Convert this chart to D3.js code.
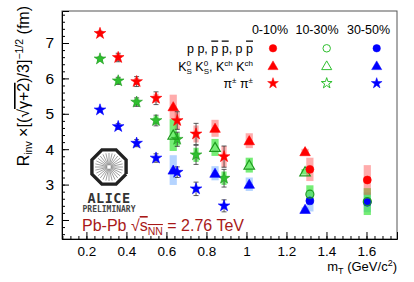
<!DOCTYPE html>
<html>
<head>
<meta charset="utf-8">
<script src="https://cdn.jsdelivr.net/npm/d3@7"></script>
<style>
  body { margin: 0; background: #fff; }
  svg { font-family: "Liberation Sans", Arial, sans-serif; }
</style>
</head>
<body>
<div id="chart"></div>
<script>
// valeurs
const pionMt = [0.268, 0.359, 0.451, 0.548, 0.654, 0.748, 0.888]
const pionR0 = [7.27, 6.59, 5.91, 5.44, 4.81, 4.43, 3.79]
const pionR1 = [6.55, 5.93, 5.33, 4.81, 4.28, 3.84, 3.18]
const pionR2 = [5.11, 4.64, 4.17, 3.75, 3.35, 2.88, 2.40]
const pionStat0 = [0.06, 0.12, 0.14, 0.18, 0.25, 0.30, 0.30]
const pionStat1 = [0.05, 0.10, 0.12, 0.15, 0.20, 0.27, 0.25]
const pionStat2 = [0.05, 0.08, 0.10, 0.12, 0.15, 0.19, 0.17]
const pionSys0 = [0.08, 0.10, 0.10, 0.13, 0.25, 0.24, 0.30]
const pionSys1 = [0.07, 0.08, 0.10, 0.12, 0.18, 0.20, 0.19]
const pionSys2 = [0.04, 0.04, 0.05, 0.05, 0.06, 0.06, 0.06]

const kaonMt = [0.634, 0.843, 1.014, 1.293]
const kaonR0 = [5.20, 4.59, 4.24, 3.93]
const kaonR1 = [4.40, 4.05, 3.55, 3.36]
const kaonR2 = [3.41, 3.32, 3.01, 2.30]
const kaonSys0 = [0.34, 0.24, 0.21, 0.08]
const kaonSys1 = [0.45, 0.24, 0.21, 0.08]
const kaonSys2 = [0.42, 0.20, 0.19, 0.06]

const protonMt = [1.317, 1.604]
const protonR0 = [3.43, 3.13]
const protonR1 = [2.73, 2.52]
const protonR2 = [2.54, 2.50]
const protonSys0 = [0.33, 0.42]
const protonSys1 = [0.25, 0.38]
const protonSys2 = [0.30, 0.28]

const centralities = ["0-10%", "10-30%", "30-50%"]
const xTicks = [0.2, 0.4, 0.6, 0.8, 1, 1.2, 1.4, 1.6]
const yTicks = [2, 3, 4, 5, 6, 7]

const colors = ["#ff0000", "#2fbf2f", "#0000ff"]
const boxColors = ["rgba(255,70,70,0.45)", "rgba(60,230,60,0.7)", "rgba(90,160,255,0.45)"]

const W = 414, H = 282
const frame = { left: 62, right: 397, top: 11, bottom: 239 }

const svg = d3.select("#chart").append("svg")
    .attr("width", W)
    .attr("height", H)

let x = d3.scaleLinear().domain([0.078, 1.7525]).range([frame.left, frame.right])
let y = d3.scaleLinear().domain([1.463, 7.904]).range([frame.bottom, frame.top])

//cadre
svg.append("rect")
    .attr("x", frame.left).attr("y", frame.top)
    .attr("width", frame.right - frame.left)
    .attr("height", frame.bottom - frame.top)
    .attr("fill", "none")
    .attr("stroke", "#555")

//axe x
let minorX = d3.range(0.08, 1.75, 0.04).map(v => +v.toFixed(2))
svg.append("g")
    .attr("transform", "translate(0," + frame.bottom + ")")
    .call(d3.axisBottom(x).tickValues(minorX).tickSize(-3).tickFormat(""))
    .call(g => g.select(".domain").remove())
svg.append("g")
    .attr("transform", "translate(0," + frame.bottom + ")")
    .call(d3.axisBottom(x).tickValues(xTicks).tickSize(-7).tickPadding(7).tickFormat(d3.format("")))
    .call(g => g.select(".domain").attr("stroke", "#000"))
    .call(g => g.selectAll("text").attr("font-size", 13.5).attr("fill", "#000").attr("font-family", "Liberation Sans, Arial, sans-serif"))

//axe y
let minorY = d3.range(1.6, 7.9, 0.2).map(v => +v.toFixed(1))
svg.append("g")
    .attr("transform", "translate(" + frame.left + ",0)")
    .call(d3.axisLeft(y).tickValues(minorY).tickSize(-3).tickFormat(""))
    .call(g => g.select(".domain").remove())
svg.append("g")
    .attr("transform", "translate(" + frame.left + ",0)")
    .call(d3.axisLeft(y).tickValues(yTicks).tickSize(-7).tickPadding(8).tickFormat(d3.format("")))
    .call(g => g.select(".domain").attr("stroke", "#000"))
    .call(g => g.selectAll("text").attr("font-size", 15.5).attr("fill", "#000").attr("font-family", "Liberation Sans, Arial, sans-serif"))
svg.selectAll(".tick line").attr("stroke", "#000")

//logo ALICE
const logo = svg.append("g").attr("transform", "translate(109,167)")
logo.append("path")
    .attr("d", d3.line()(d3.range(9).map(i => {
        let a = Math.PI / 8 + i * Math.PI / 4
        return [18.5 * Math.cos(a), 18.5 * Math.sin(a)]
    })))
    .attr("fill", "none").attr("stroke", "#222").attr("stroke-width", 3.4)
d3.range(28).forEach(i => {
    let a = i * 2 * Math.PI / 28
    logo.append("line")
        .attr("x1", 2 * Math.cos(a)).attr("y1", 2 * Math.sin(a))
        .attr("x2", 14 * Math.cos(a)).attr("y2", 14 * Math.sin(a))
        .attr("stroke", "#888").attr("stroke-width", 0.8)
})
svg.append("text").attr("x", 109).attr("y", 202.5).attr("text-anchor", "middle")
    .attr("font-size", 13.5).attr("font-weight", "bold").attr("fill", "#333")
    .attr("font-family", "DejaVu Sans Mono, monospace").attr("letter-spacing", 0.5)
    .text("ALICE")
svg.append("text").attr("x", 109).attr("y", 212).attr("text-anchor", "middle")
    .attr("font-size", 8).attr("font-weight", "bold").attr("fill", "#444")
    .attr("font-family", "DejaVu Sans Mono, monospace")
    .text("PRELIMINARY")

//texte Pb-Pb
const pb = svg.append("text").attr("x", 82).attr("y", 231)
    .attr("font-size", 16).attr("fill", "#a81818")
pb.append("tspan").text("Pb-Pb ")
pb.append("tspan").text("√")
pb.append("tspan").style("text-decoration", "overline").text("s")
pb.append("tspan").attr("font-size", 10.5).attr("dy", 4).style("text-decoration", "overline").text("NN")
pb.append("tspan").attr("dy", -4).text(" = 2.76 TeV")

//titres des axes
const xt = svg.append("text").attr("x", 397).attr("y", 271).attr("text-anchor", "end").attr("font-size", 13)
xt.append("tspan").text("m")
xt.append("tspan").attr("font-size", 9).attr("dy", 3).text("T")
xt.append("tspan").attr("dy", -3).text(" (GeV/c")
xt.append("tspan").attr("font-size", 9).attr("dy", -5).text("2")
xt.append("tspan").attr("dy", 5).text(")")

const yt = svg.append("text").attr("transform", "translate(29,6) rotate(-90)")
    .attr("text-anchor", "end").attr("font-size", 16)
yt.append("tspan").text("R")
yt.append("tspan").attr("font-size", 10.5).attr("dy", 3).text("inv")
yt.append("tspan").attr("dy", -3).text("  ×[(√")
yt.append("tspan").style("text-decoration", "overline").text("γ+2")
yt.append("tspan").text(")/3]")
yt.append("tspan").attr("font-size", 10.5).attr("dy", -6).text("−1/2")
yt.append("tspan").attr("dy", 6).text(" (fm)")

//séries
const species = [
    { mt: pionMt, r: [pionR0, pionR1, pionR2], stat: [pionStat0, pionStat1, pionStat2], sys: [pionSys0, pionSys1, pionSys2], sym: d3.symbolStar, size: 42, open: [false, false, false], bw: 0.026 },
    { mt: kaonMt, r: [kaonR0, kaonR1, kaonR2], stat: null, sys: [kaonSys0, kaonSys1, kaonSys2], sym: d3.symbolTriangle, size: 48, open: [false, true, false], bw: 0.036 },
    { mt: protonMt, r: [protonR0, protonR1, protonR2], stat: null, sys: [protonSys0, protonSys1, protonSys2], sym: d3.symbolCircle, size: 50, open: [false, true, false], bw: 0.036 }
]

//boîtes systématiques
species.forEach(sp => {
    [2, 1, 0].forEach(c => {
        svg.append("g").selectAll("rect")
            .data(sp.mt)
            .join("rect")
            .attr("x", d => x(d - sp.bw / 2))
            .attr("width", x(sp.bw) - x(0))
            .attr("y", (d, i) => y(sp.r[c][i] + sp.sys[c][i]))
            .attr("height", (d, i) => y(sp.r[c][i] - sp.sys[c][i]) - y(sp.r[c][i] + sp.sys[c][i]))
            .attr("fill", boxColors[c])
    })
})

//barres d'erreur stat
species.filter(sp => sp.stat).forEach(sp => {
    [0, 1, 2].forEach(c => {
        const g = svg.append("g").attr("stroke", "#333").attr("stroke-width", 0.8)
        sp.mt.forEach((m, i) => {
            let lo = y(sp.r[c][i] - sp.stat[c][i]), hi = y(sp.r[c][i] + sp.stat[c][i])
            g.append("line").attr("x1", x(m)).attr("x2", x(m)).attr("y1", lo).attr("y2", hi)
            g.append("line").attr("x1", x(m) - 2.5).attr("x2", x(m) + 2.5).attr("y1", lo).attr("y2", lo)
            g.append("line").attr("x1", x(m) - 2.5).attr("x2", x(m) + 2.5).attr("y1", hi).attr("y2", hi)
        })
    })
})

//marqueurs
species.forEach(sp => {
    [2, 1, 0].forEach(c => {
        svg.append("g").selectAll("path")
            .data(sp.mt)
            .join("path")
            .attr("transform", (d, i) => "translate(" + x(d) + "," + (y(sp.r[c][i]) + (sp.sym === d3.symbolTriangle ? 1 : 0)) + ")")
            .attr("d", d3.symbol().type(sp.sym).size(sp.size))
            .attr("fill", sp.open[c] ? "none" : colors[c])
            .attr("stroke", c === 1 ? "#1e9a1e" : colors[c])
            .attr("stroke-width", sp.open[c] ? 1.2 : 0.6)
    })
})

//légende
const legX = [270, 317, 368.5]
const markX = [273, 326.7, 376.7]
const rowY = [48.3, 66.7, 83.3]
centralities.forEach((c, i) => {
    svg.append("text").attr("x", legX[i]).attr("y", 34).attr("text-anchor", "middle")
        .attr("font-size", 12.5).text(c)
})
const legSyms = [d3.symbolCircle, d3.symbolTriangle, d3.symbolStar]
const legOpen = [[false, true, false], [false, true, false], [false, true, false]]
legSyms.forEach((s, r) => {
    centralities.forEach((c, i) => {
        svg.append("path")
            .attr("transform", "translate(" + markX[i] + "," + rowY[r] + ")")
            .attr("d", d3.symbol().type(s).size(s === d3.symbolStar ? 36 : 44))
            .attr("fill", legOpen[r][i] ? "none" : colors[i])
            .attr("stroke", colors[i])
            .attr("stroke-width", legOpen[r][i] ? 1 : 0.5)
    })
})
const l1 = svg.append("text").attr("x", 253).attr("y", 52.5).attr("text-anchor", "end").attr("font-size", 12.5)
l1.append("tspan").text("p p, ")
l1.append("tspan").style("text-decoration", "overline").text("p")
l1.append("tspan").text(" ")
l1.append("tspan").style("text-decoration", "overline").text("p")
l1.append("tspan").text(", p ")
l1.append("tspan").style("text-decoration", "overline").text("p")
const l2 = svg.append("text").attr("x", 253).attr("y", 71).attr("text-anchor", "end").attr("font-size", 12.5)
l2.append("tspan").text("K")
l2.append("tspan").attr("font-size", 8).attr("dy", -5).text("0")
l2.append("tspan").attr("font-size", 8).attr("dx", -4.5).attr("dy", 8).text("S")
l2.append("tspan").attr("dy", -3).text(" K")
l2.append("tspan").attr("font-size", 8).attr("dy", -5).text("0")
l2.append("tspan").attr("font-size", 8).attr("dx", -4.5).attr("dy", 8).text("S")
l2.append("tspan").attr("dy", -3).text(", K")
l2.append("tspan").attr("font-size", 8).attr("dy", -5).text("ch")
l2.append("tspan").attr("dy", 5).text(" K")
l2.append("tspan").attr("font-size", 8).attr("dy", -5).text("ch")
const l3 = svg.append("text").attr("x", 253).attr("y", 87.5).attr("text-anchor", "end").attr("font-size", 12.5)
l3.append("tspan").text("π")
l3.append("tspan").attr("font-size", 8).attr("dy", -5).text("±")
l3.append("tspan").attr("dy", 5).text(" π")
l3.append("tspan").attr("font-size", 8).attr("dy", -5).text("±")
</script>
</body>
</html>
